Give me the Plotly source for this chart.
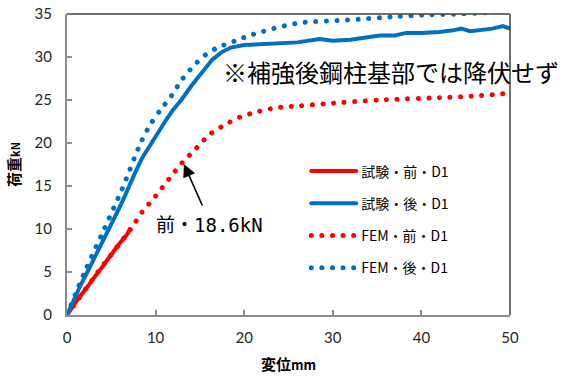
import plotly.graph_objects as go

# Load–displacement data (displacement in mm, load in kN)
test_before_x = [0, 0.4, 0.8, 1.2, 1.6, 2.0, 2.4, 2.8, 3.2, 3.6, 4.0, 4.4, 4.8, 5.2, 5.6, 6.0, 6.4, 6.8, 7.1]
test_before_y = [0, 0.7, 1.2, 1.8, 2.3, 2.9, 3.4, 4.0, 4.5, 5.0, 5.6, 6.2, 6.7, 7.3, 7.9, 8.4, 8.9, 9.4, 10.0]

test_after_x = [0, 0.5, 1.0, 1.5, 2.3, 3.0, 3.8, 4.75, 5.5, 6.3, 7.0, 7.8, 8.5, 9.5, 10.4, 11.2, 12.0, 12.9,
                14.0, 15.2, 16.4, 17.5, 18.5, 20, 22, 24, 26, 28.5, 30, 32, 34, 35.3, 37, 38.3,
                40, 42, 43.6, 44.5, 45.5, 46.6, 48, 49.2, 50]
test_after_y = [0, 1.2, 2.3, 3.4, 5.0, 6.5, 8.2, 10.0, 11.6, 13.3, 15.0, 16.8, 18.3, 20.0, 21.5, 22.7, 23.9, 25.0,
                26.6, 28.2, 29.7, 30.6, 31.1, 31.4, 31.5, 31.6, 31.7, 32.1, 31.9, 32.0, 32.3, 32.5, 32.5, 32.8,
                32.8, 32.9, 33.1, 33.3, 33.0, 33.1, 33.3, 33.6, 33.3]

fem_before_x = [0, 3.5, 7.2, 8.5, 10.0, 11.5, 13.0, 14.6, 16.1, 17.8, 19.5, 21.4, 23.6, 26.0, 29.6, 35.3, 42.9, 46.6, 50.0]
fem_before_y = [0, 5.0, 10.0, 12.0, 13.8, 15.8, 17.7, 19.4, 21.0, 22.1, 23.0, 23.6, 24.1, 24.3, 24.6, 25.0, 25.3, 25.5, 25.8]

fem_after_x = [0, 2.0, 4.2, 6.2, 8.4, 9.5, 10.6, 11.8, 13.0, 14.6, 15.7, 17.0, 18.0, 19.2, 20.6,
               21.9, 23.1, 24.0, 26.6, 31.6, 37.2, 41.0, 44.3, 47.0, 50.0]
fem_after_y = [0, 5.0, 10.0, 14.6, 20.2, 22.3, 23.9, 25.5, 27.4, 29.3, 30.3, 31.1, 31.5, 31.95, 32.5,
               32.9, 33.25, 33.5, 34.0, 34.3, 34.7, 34.9, 35.0, 35.15, 35.3]

RED = "#FF0000"
BLUE = "#0070C0"
JP = "Noto Sans CJK JP"
NUM = "Lato, Noto Sans CJK JP"
DOTS = "0.1px,10.5px"

fig = go.Figure()
fig.add_trace(go.Scatter(x=test_before_x, y=test_before_y, mode="lines", name="試験・前・D1",
                         legendgroup="a", line=dict(color=RED, width=4)))
fig.add_trace(go.Scatter(x=test_after_x, y=test_after_y, mode="lines", name="試験・後・D1",
                         legendgroup="b", line=dict(color=BLUE, width=4)))
fig.add_trace(go.Scatter(x=fem_before_x, y=fem_before_y, mode="lines", name="FEM・前・D1",
                         legendgroup="c",
                         line=dict(color=RED, width=5, dash=DOTS, shape="spline", smoothing=0.8)))
fig.add_trace(go.Scatter(x=fem_after_x, y=fem_after_y, mode="lines", name="FEM・後・D1",
                         legendgroup="d",
                         line=dict(color=BLUE, width=5, dash=DOTS, shape="spline", smoothing=0.8)))

axis_common = dict(
    showgrid=False, zeroline=False, showline=True, linecolor="#8C8C8C", linewidth=2,
    ticks="inside", ticklen=5, tickwidth=1.5, tickcolor="#8C8C8C", automargin=False,
    tickfont=dict(family=NUM, size=15, color="#262626"),
)
fig.update_xaxes(range=[0, 50], dtick=10, ticklabelstandoff=8,
                 title=dict(text="<b>変位<span style='font-size:13px'>mm</span></b>",
                            font=dict(family=JP, size=15, color="#000000"), standoff=14),
                 **axis_common)
fig.update_yaxes(range=[0, 35], dtick=5, ticklabelstandoff=10,
                 title=dict(text="<b>荷重<span style='font-size:11px'>kN</span></b>",
                            font=dict(family=JP, size=15, color="#000000"), standoff=10),
                 **axis_common)

# top and right frame edges
fig.add_shape(type="line", xref="paper", yref="paper", x0=0, x1=1, y0=1, y1=1,
              line=dict(color="#404040", width=1.5))
fig.add_shape(type="line", xref="paper", yref="paper", x0=1, x1=1, y0=0, y1=1,
              line=dict(color="#404040", width=1.5))

fig.add_annotation(x=36.6, y=28.3, xref="x", yref="y", text="※補強後鋼柱基部では降伏せず",
                   showarrow=False, font=dict(family=JP, size=24, color="#000000"))
fig.add_annotation(x=16.1, y=10.5, xref="x", yref="y", text="前・18.6kN",
                   showarrow=False, font=dict(family="DejaVu Sans Mono, Noto Sans CJK JP", size=19, color="#000000"))
fig.add_annotation(x=13.2, y=17.55, xref="x", yref="y", ax=15.35, ay=12.56, axref="x", ayref="y",
                   text="", showarrow=True, arrowhead=2, arrowsize=1.6, arrowwidth=1.6,
                   arrowcolor="#000000", standoff=0)

fig.update_layout(
    width=562, height=376,
    margin=dict(l=67, r=52, t=14, b=61, autoexpand=False),
    plot_bgcolor="white", paper_bgcolor="white",
    showlegend=True,
    legend=dict(x=0.54, y=0.53, xanchor="left", yanchor="top",
                font=dict(family=JP, size=14, color="#000000"),
                bgcolor="rgba(0,0,0,0)", borderwidth=0,
                traceorder="grouped", tracegroupgap=11, itemwidth=45),
)

# round line caps turn the short dashes into dots
round_caps = ("var s=document.createElement('style');"
              "s.textContent='path.js-line{stroke-linecap:round;}';"
              "document.head.appendChild(s);")
fig.write_html("out.html", post_script=round_caps)
